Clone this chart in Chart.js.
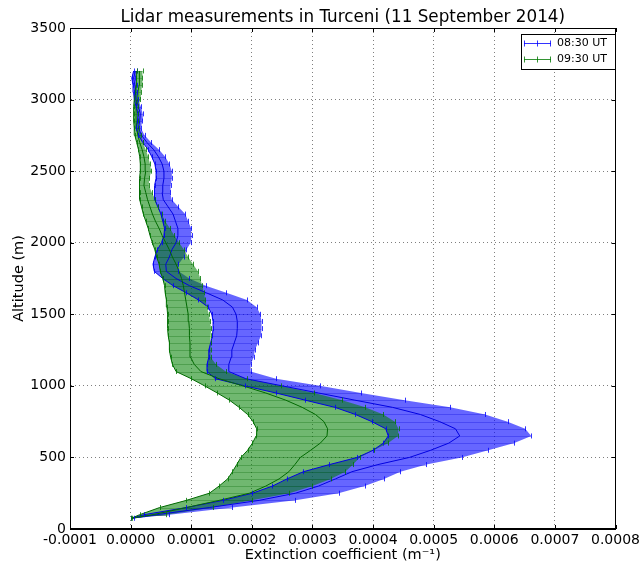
<!DOCTYPE html>
<html>
<head>
<meta charset="utf-8">
<script src="https://cdn.jsdelivr.net/npm/chart.js@4.4.1/dist/chart.umd.min.js"></script>
<style>
  html, body { margin: 0; padding: 0; background: #fff; }
</style>
</head>
<body>
<canvas id="lidarChart" width="643" height="564"></canvas>
<script>
// altitude levels (m)
const altitudes = [75, 100, 150, 200, 250, 300, 350, 400, 450, 500, 550, 600, 650, 700, 750, 800, 850, 900, 950, 1000,
  1050, 1100, 1150, 1200, 1250, 1300, 1350, 1400, 1450, 1500, 1550, 1600, 1650, 1700, 1750, 1800, 1850, 1900, 1950, 2000,
  2050, 2100, 2150, 2200, 2250, 2300, 2350, 2400, 2450, 2500, 2550, 2600, 2650, 2700, 2750, 2800, 2850, 2900, 2950, 3000,
  3050, 3100, 3150, 3200];

// extinction coefficient, in units of 1e-4 m^-1
const ext0830 = [0.03, 0.43, 1.30, 2.12, 2.72, 3.10, 3.38, 3.65, 4.08, 4.60, 4.95, 5.25, 5.43, 5.36, 5.10, 4.78, 4.32, 3.70, 3.10, 2.50,
  1.90, 1.62, 1.62, 1.66, 1.67, 1.71, 1.75, 1.76, 1.76, 1.74, 1.68, 1.52, 1.25, 0.97, 0.75, 0.59, 0.58, 0.64, 0.68, 0.75,
  0.78, 0.78, 0.74, 0.70, 0.62, 0.54, 0.52, 0.53, 0.55, 0.55, 0.52, 0.46, 0.38, 0.27, 0.18, 0.13, 0.15, 0.16, 0.13, 0.09,
  0.08, 0.07, 0.05, 0.08];
const err0830 = [0.02, 0.21, 0.38, 0.60, 0.71, 0.76, 0.80, 0.80, 0.80, 0.86, 0.95, 1.08, 1.18, 1.15, 1.12, 1.07, 0.95, 0.82, 0.70, 0.62,
  0.50, 0.36, 0.36, 0.37, 0.38, 0.39, 0.40, 0.40, 0.40, 0.40, 0.40, 0.40, 0.33, 0.27, 0.22, 0.20, 0.21, 0.24, 0.24, 0.24,
  0.23, 0.22, 0.21, 0.20, 0.17, 0.14, 0.13, 0.13, 0.13, 0.13, 0.12, 0.11, 0.09, 0.07, 0.05, 0.04, 0.04, 0.04, 0.04, 0.03,
  0.03, 0.03, 0.03, 0.03];
const ext0930 = [0.02, 0.37, 0.92, 1.46, 1.96, 2.23, 2.45, 2.61, 2.71, 2.80, 2.97, 3.13, 3.24, 3.25, 3.19, 3.05, 2.83, 2.56, 2.23, 1.85,
  1.46, 1.16, 1.05, 0.99, 0.98, 0.98, 0.97, 0.97, 0.96, 0.95, 0.93, 0.91, 0.89, 0.87, 0.84, 0.80, 0.75, 0.69, 0.64, 0.58,
  0.52, 0.47, 0.41, 0.36, 0.32, 0.28, 0.25, 0.22, 0.23, 0.25, 0.24, 0.22, 0.19, 0.15, 0.12, 0.10, 0.09, 0.09, 0.09, 0.11,
  0.12, 0.14, 0.14, 0.15];
const err0930 = [0.01, 0.22, 0.44, 0.54, 0.66, 0.77, 0.85, 0.93, 0.96, 0.98, 1.04, 1.12, 1.17, 1.17, 1.17, 1.12, 1.04, 0.93, 0.80, 0.63,
  0.46, 0.41, 0.36, 0.33, 0.34, 0.34, 0.35, 0.36, 0.35, 0.34, 0.33, 0.32, 0.32, 0.31, 0.31, 0.31, 0.28, 0.26, 0.24, 0.22,
  0.20, 0.18, 0.16, 0.15, 0.14, 0.13, 0.10, 0.08, 0.08, 0.09, 0.08, 0.07, 0.06, 0.05, 0.05, 0.04, 0.04, 0.04, 0.04, 0.05,
  0.05, 0.05, 0.05, 0.05];

const seriesNames = ['08:30 UT', '09:30 UT'];
const xTickValues = [-0.0001, 0, 0.0001, 0.0002, 0.0003, 0.0004, 0.0005, 0.0006, 0.0007, 0.0008];
const yTickValues = [0, 500, 1000, 1500, 2000, 2500, 3000, 3500];

const FONT = 'DejaVu Sans';
Chart.defaults.font.family = FONT;
Chart.defaults.color = '#000';

function pts(vals, errs, sign) {
  return altitudes.map((a, i) => ({ x: (vals[i] + sign * errs[i]) * 1e-4, y: a }));
}

const series = [
  { name: seriesNames[0], vals: ext0830, errs: err0830, fillIdx: 1,
    band: 'rgba(0,0,255,0.6)', bar: 'rgba(0,0,220,0.3)', cap: 'rgba(0,0,255,0.8)', line: 'rgb(0,0,225)' },
  { name: seriesNames[1], vals: ext0930, errs: err0930, fillIdx: 3,
    band: 'rgba(0,128,0,0.56)', bar: 'rgba(0,100,0,0.3)', cap: 'rgba(0,120,0,0.8)', line: 'rgb(0,105,0)' }
];

const base = { pointRadius: 0, pointHoverRadius: 0, tension: 0, borderWidth: 1 };

const datasets = [
  Object.assign({}, base, { label: 'lo0', data: pts(ext0830, err0830, -1), borderColor: 'transparent', fill: false, order: 10 }),
  Object.assign({}, base, { label: 'hi0', data: pts(ext0830, err0830, 1), borderColor: 'transparent', fill: 0, backgroundColor: series[0].band, order: 9 }),
  Object.assign({}, base, { label: 'lo1', data: pts(ext0930, err0930, -1), borderColor: 'transparent', fill: false, order: 8 }),
  Object.assign({}, base, { label: 'hi1', data: pts(ext0930, err0930, 1), borderColor: 'transparent', fill: 2, backgroundColor: series[1].band, order: 7 }),
  Object.assign({}, base, { label: 'edge0', data: pts(ext0830, err0830, -1), borderColor: series[0].line, fill: false, order: 4 }),
  Object.assign({}, base, { label: seriesNames[0], data: pts(ext0830, err0830, 0), borderColor: series[0].line, fill: false, order: 3 }),
  Object.assign({}, base, { label: 'edge1', data: pts(ext0930, err0930, -1), borderColor: series[1].line, fill: false, order: 2 }),
  Object.assign({}, base, { label: seriesNames[1], data: pts(ext0930, err0930, 0), borderColor: series[1].line, fill: false, order: 1 })
];

// horizontal error bars + caps, placed through the chart scales
const errorBars = {
  id: 'errorBars',
  afterDatasetDraw(chart, args) {
    const s = series.find(k => k.fillIdx === args.index);
    if (!s) return;
    const { ctx, scales: { x, y } } = chart;
    ctx.save();
    ctx.strokeStyle = s.bar;
    ctx.lineWidth = 1;
    ctx.beginPath();
    altitudes.forEach((a, i) => {
      const py = Math.round(y.getPixelForValue(a)) + 0.5;
      ctx.moveTo(x.getPixelForValue((s.vals[i] - s.errs[i]) * 1e-4), py);
      ctx.lineTo(x.getPixelForValue((s.vals[i] + s.errs[i]) * 1e-4), py);
    });
    ctx.stroke();
    ctx.restore();
  },
  afterDatasetsDraw(chart) {
    const { ctx, scales: { x, y }, chartArea } = chart;
    ctx.save();
    ctx.beginPath();
    ctx.rect(chartArea.left, chartArea.top, chartArea.width, chartArea.height);
    ctx.clip();
    series.forEach(s => {
      ctx.strokeStyle = s.cap;
      ctx.lineWidth = 1;
      ctx.beginPath();
      altitudes.forEach((a, i) => {
        const py = y.getPixelForValue(a);
        [-1, 1].forEach(sg => {
          const px = Math.round(x.getPixelForValue((s.vals[i] + sg * s.errs[i]) * 1e-4)) + 0.5;
          ctx.moveTo(px, py - 2.5);
          ctx.lineTo(px, py + 2.5);
        });
      });
      ctx.stroke();
    });
    ctx.restore();
  }
};

// title, frame, inward ticks and legend box
const decorations = {
  id: 'decorations',
  afterDraw(chart) {
    const { ctx, chartArea: ca, scales: { x, y } } = chart;
    ctx.save();
    ctx.strokeStyle = '#000';
    ctx.lineWidth = 1;
    ctx.strokeRect(Math.round(ca.left) + 0.5, Math.round(ca.top) + 0.5, Math.round(ca.width) - 1, Math.round(ca.height) - 1);

    ctx.beginPath();
    xTickValues.forEach(v => {
      const px = Math.round(x.getPixelForValue(v)) + 0.5;
      ctx.moveTo(px, ca.bottom); ctx.lineTo(px, ca.bottom - 4);
      ctx.moveTo(px, ca.top); ctx.lineTo(px, ca.top + 4);
    });
    yTickValues.forEach(v => {
      const py = Math.round(y.getPixelForValue(v)) + 0.5;
      ctx.moveTo(ca.left, py); ctx.lineTo(ca.left + 4, py);
      ctx.moveTo(ca.right, py); ctx.lineTo(ca.right - 4, py);
    });
    ctx.stroke();

    ctx.fillStyle = '#000';
    ctx.font = '16.8px "' + FONT + '"';
    ctx.textAlign = 'center';
    ctx.textBaseline = 'middle';
    ctx.fillText('Lidar measurements in Turceni (11 September 2014)', (ca.left + ca.right) / 2, 18);

    // legend
    const bx = 521.5, by = 34.5, bw = 94, bh = 35;
    ctx.fillStyle = '#fff';
    ctx.fillRect(bx, by, bw, bh);
    ctx.strokeStyle = '#000';
    ctx.strokeRect(bx, by, bw, bh);
    ctx.font = '11px "' + FONT + '"';
    ctx.textAlign = 'left';
    series.forEach((s, i) => {
      const ly = 43.5 + i * 16;
      ctx.strokeStyle = s.cap;
      ctx.beginPath();
      ctx.moveTo(524, ly); ctx.lineTo(551, ly);
      [524.5, 537.5, 550.5].forEach(tx => { ctx.moveTo(tx, ly - 3); ctx.lineTo(tx, ly + 3); });
      ctx.stroke();
      ctx.fillStyle = '#000';
      ctx.fillText(s.name, 557, ly);
    });
    ctx.restore();
  }
};

new Chart(document.getElementById('lidarChart'), {
  type: 'line',
  data: { datasets: datasets },
  plugins: [errorBars, decorations],
  options: {
    responsive: false,
    devicePixelRatio: 1,
    animation: false,
    indexAxis: 'y',
    layout: { padding: { top: 28, right: 25, left: 0, bottom: 0 } },
    plugins: {
      legend: { display: false },
      tooltip: { enabled: false },
      title: { display: false }
    },
    scales: {
      x: {
        type: 'linear',
        min: -0.0001,
        max: 0.0008,
        ticks: {
          stepSize: 0.0001,
          autoSkip: false,
          maxRotation: 0,
          padding: 3,
          font: { size: 14 },
          callback: v => v.toFixed(4)
        },
        grid: { color: 'rgba(0,0,0,0.5)', lineWidth: 1, drawTicks: false },
        border: { display: true, color: '#000', width: 1, dash: [1, 3] },
        title: { display: true, text: 'Extinction coefficient (m⁻¹)', font: { size: 14.5 }, padding: { top: 0, bottom: 0 } },
        afterFit(s) { s.height = 35; }
      },
      y: {
        type: 'linear',
        min: 0,
        max: 3500,
        ticks: { stepSize: 500, padding: 4, font: { size: 14 }, callback: v => String(v) },
        grid: { color: 'rgba(0,0,0,0.5)', lineWidth: 1, drawTicks: false },
        border: { display: true, color: '#000', width: 1, dash: [1, 3] },
        title: { display: true, text: 'Altitude (m)', font: { size: 14.5 }, padding: { top: 11, bottom: 0 } },
        afterFit(s) { s.width = 70; }
      }
    }
  }
});
</script>
</body>
</html>
